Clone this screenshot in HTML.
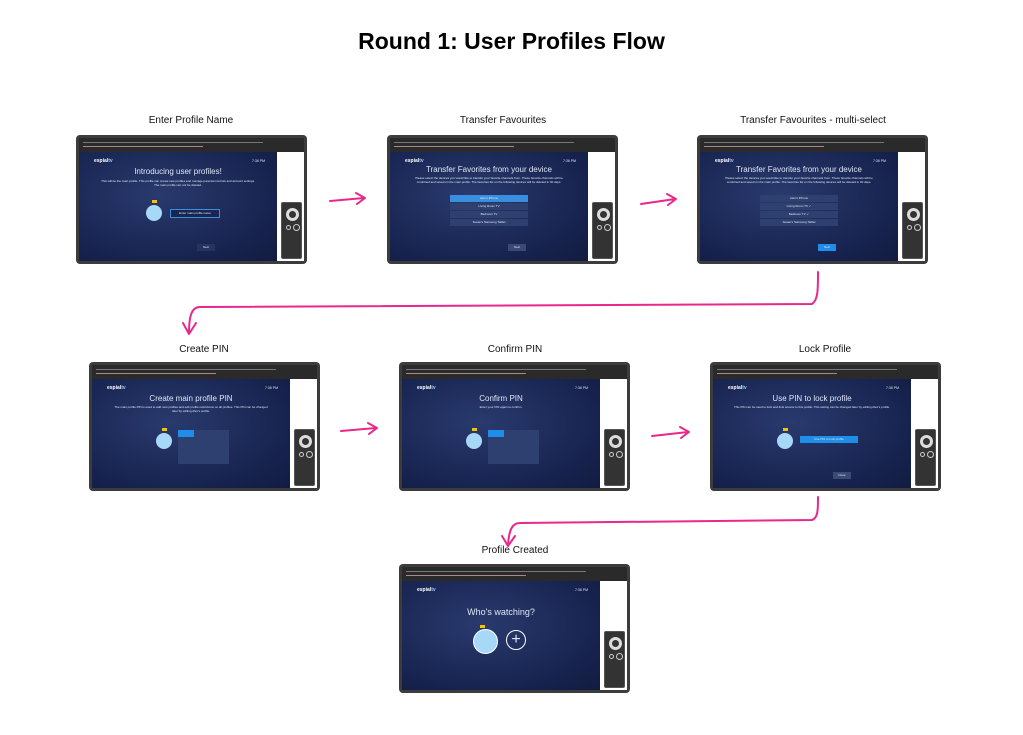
<!DOCTYPE html><html><head><style>
*{margin:0;padding:0;box-sizing:border-box}
body{width:1023px;height:735px;background:#fff;position:relative;overflow:hidden;font-family:"Liberation Sans",sans-serif}
.t{position:absolute;font-size:10px;color:#111;text-align:center;width:240px}
.s{position:absolute;width:231px;height:129px;background:#3c3c3c;border-radius:4px}
.ch{position:absolute;left:3px;top:3px;right:3px;height:14px;background:#2a2a2a}
.ch i{position:absolute;height:1px;background:#777;left:4px}
.b{position:absolute;left:3px;top:17px;width:198px;bottom:3px;background:radial-gradient(ellipse at 40% 40%,#2a3a6e,#17234f 70%,#121c40);overflow:hidden;color:#dfe6f5;text-align:center}
.w{position:absolute;left:201px;top:17px;right:3px;bottom:3px;background:#fff}
.r{position:absolute;left:205px;top:67px;width:21px;height:57px;background:#333;border-radius:2px;border:1px solid #555}
.r:before{content:"";position:absolute;left:4px;top:5px;width:13px;height:13px;border:3px solid #ddd;border-radius:50%;box-sizing:border-box}
.r:after{content:"";position:absolute;left:4px;top:22px;width:3px;height:3px;border:1px solid #ccc;border-radius:50%;box-shadow:8px 0 0 -0px #333,8px 0 0 1px #ccc}
.lg{position:absolute;left:15px;top:6px;font-size:5px;font-weight:bold;color:#fff}
.tm{position:absolute;right:12px;top:7px;font-size:3.5px}
.h{position:absolute;left:0;right:0;font-size:8px}
.p{position:absolute;left:20px;right:20px;font-size:3px;line-height:4px}
.av{position:absolute;width:16px;height:16px;border-radius:50%;background:#a8d8f8}
.av:before{content:"";position:absolute;left:6px;top:-5px;width:5px;height:3px;background:#f4c400}
.bx{position:absolute;background:#2e4070;font-size:3px;line-height:7px}
</style></head><body>
<div style="position:absolute;left:0;width:1023px;top:28px;text-align:center;font-size:23px;font-weight:bold;color:#000">Round 1: User Profiles Flow</div>

<div class="t" style="left:71px;top:115px">Enter Profile Name</div>
<div class="t" style="left:383px;top:115px">Transfer Favourites</div>
<div class="t" style="left:693px;top:115px">Transfer Favourites - multi-select</div>
<div class="t" style="left:84px;top:344px">Create PIN</div>
<div class="t" style="left:395px;top:344px">Confirm PIN</div>
<div class="t" style="left:705px;top:344px">Lock Profile</div>
<div class="t" style="left:395px;top:545px">Profile Created</div>

<!-- 1 -->
<div class="s" style="left:76px;top:135px"><div class="ch"><i style="top:4px;width:180px"></i><i style="top:8px;width:120px;background:#a88"></i></div>
<div class="b"><div class="lg">espial<span style="color:#9cf">tv</span></div><div class="tm">7:36 PM</div>
<div class="h" style="top:15px">Introducing user profiles!</div>
<div class="p" style="top:27px">This will be the main profile. This profile can create new profiles and manage parental controls and account settings. The main profile can not be deleted.</div>
<div class="av" style="left:67px;top:53px"></div>
<div class="bx" style="left:91px;top:57px;width:50px;border:1px solid #3a8ee0;background:#1a2550">Enter main profile name</div>
<div class="bx" style="left:118px;top:92px;width:18px;background:#25345e">Next</div></div>
<div class="w"></div><div class="r"></div></div>

<!-- 2 -->
<div class="s" style="left:387px;top:135px"><div class="ch"><i style="top:4px;width:180px"></i><i style="top:8px;width:120px;background:#a88"></i></div>
<div class="b"><div class="lg">espial<span style="color:#9cf">tv</span></div><div class="tm">7:36 PM</div>
<div class="h" style="top:13px">Transfer Favorites from your device</div>
<div class="p" style="top:24px">Please select the devices you would like to transfer your favorite channels from. These favorite channels will be combined and saved on the main profile. The favorites list on the following devices will be deleted in 30 days.</div>
<div class="bx" style="left:60px;top:43px;width:78px;background:#3a8ee0">Alex's iPhone</div>
<div class="bx" style="left:60px;top:51px;width:78px">Living Room TV</div>
<div class="bx" style="left:60px;top:59px;width:78px">Bedroom TV</div>
<div class="bx" style="left:60px;top:67px;width:78px">Susan's Samsung Tablet</div>
<div class="bx" style="left:118px;top:92px;width:18px;background:#3a4a75">Next</div></div>
<div class="w"></div><div class="r"></div></div>

<!-- 3 -->
<div class="s" style="left:697px;top:135px"><div class="ch"><i style="top:4px;width:180px"></i><i style="top:8px;width:120px;background:#a88"></i></div>
<div class="b"><div class="lg">espial<span style="color:#9cf">tv</span></div><div class="tm">7:36 PM</div>
<div class="h" style="top:13px">Transfer Favorites from your device</div>
<div class="p" style="top:24px">Please select the devices you would like to transfer your favorite channels from. These favorite channels will be combined and saved on the main profile. The favorites list on the following devices will be deleted in 30 days.</div>
<div class="bx" style="left:60px;top:43px;width:78px">Alex's iPhone</div>
<div class="bx" style="left:60px;top:51px;width:78px">Living Room TV ✓</div>
<div class="bx" style="left:60px;top:59px;width:78px">Bedroom TV ✓</div>
<div class="bx" style="left:60px;top:67px;width:78px">Susan's Samsung Tablet</div>
<div class="bx" style="left:118px;top:92px;width:18px;background:#1e8ee8">Next</div></div>
<div class="w"></div><div class="r"></div></div>

<!-- 4 -->
<div class="s" style="left:89px;top:362px"><div class="ch"><i style="top:4px;width:180px"></i><i style="top:8px;width:120px;background:#a88"></i></div>
<div class="b"><div class="lg">espial<span style="color:#9cf">tv</span></div><div class="tm">7:36 PM</div>
<div class="h" style="top:15px">Create main profile PIN</div>
<div class="p" style="top:26px">The main profile PIN is used to add new profiles and edit profile restrictions on all profiles. This PIN can be changed later by editing Alex's profile.</div>
<div class="av" style="left:64px;top:54px"></div>
<div class="bx" style="left:86px;top:51px;width:51px;height:34px;background:#2e4070"><div style="width:16px;height:7px;background:#1e8ee8"></div></div></div>
<div class="w"></div><div class="r"></div></div>

<!-- 5 -->
<div class="s" style="left:399px;top:362px"><div class="ch"><i style="top:4px;width:180px"></i><i style="top:8px;width:120px;background:#a88"></i></div>
<div class="b"><div class="lg">espial<span style="color:#9cf">tv</span></div><div class="tm">7:36 PM</div>
<div class="h" style="top:15px">Confirm PIN</div>
<div class="p" style="top:26px">Enter your PIN again to confirm.</div>
<div class="av" style="left:64px;top:54px"></div>
<div class="bx" style="left:86px;top:51px;width:51px;height:34px;background:#2e4070"><div style="width:16px;height:7px;background:#1e8ee8"></div></div></div>
<div class="w"></div><div class="r"></div></div>

<!-- 6 -->
<div class="s" style="left:710px;top:362px"><div class="ch"><i style="top:4px;width:180px"></i><i style="top:8px;width:120px;background:#a88"></i></div>
<div class="b"><div class="lg">espial<span style="color:#9cf">tv</span></div><div class="tm">7:36 PM</div>
<div class="h" style="top:15px">Use PIN to lock profile</div>
<div class="p" style="top:26px">This PIN can be used to lock and limit access to this profile. This setting can be changed later by editing Alex's profile.</div>
<div class="av" style="left:64px;top:54px"></div>
<div class="bx" style="left:87px;top:57px;width:58px;background:#1e8ee8">Use PIN to lock profile</div>
<div class="bx" style="left:120px;top:93px;width:18px;background:#3a4a75">Done</div></div>
<div class="w"></div><div class="r"></div></div>

<!-- 7 -->
<div class="s" style="left:399px;top:564px"><div class="ch"><i style="top:4px;width:180px"></i><i style="top:8px;width:120px;background:#a88"></i></div>
<div class="b"><div class="lg">espial<span style="color:#9cf">tv</span></div><div class="tm">7:36 PM</div>
<div class="h" style="top:26px;font-size:9px">Who's watching?</div>
<div class="av" style="left:71px;top:48px;width:25px;height:25px;border:1px solid #fff"></div>
<div style="position:absolute;left:104px;top:49px;width:20px;height:20px;border:1px solid #fff;border-radius:50%;font-size:16px;line-height:17px">+</div></div>
<div class="w"></div><div class="r"></div></div>

<svg width="1023" height="735" style="position:absolute;left:0;top:0" fill="none" stroke="#e8288a" stroke-width="2" stroke-linecap="round" stroke-linejoin="round">
<path d="M330 201 L364 198 M356 193 L365 198 L357 204"/>
<path d="M641 204 L675 199 M667 194 L676 199 L668 205"/>
<path d="M818 272 C818 290 818 300 812 304 L200 307 C192 307 189 315 189 333 M183 323 L189 334 L196 323"/>
<path d="M341 431 L376 428 M368 423 L377 428 L369 434"/>
<path d="M652 436 L688 432 M680 427 L689 432 L681 438"/>
<path d="M818 497 C818 510 818 518 812 520 L520 523 C512 523 509 530 508 545 M502 536 L508 546 L515 536"/>
</svg>
</body></html>
